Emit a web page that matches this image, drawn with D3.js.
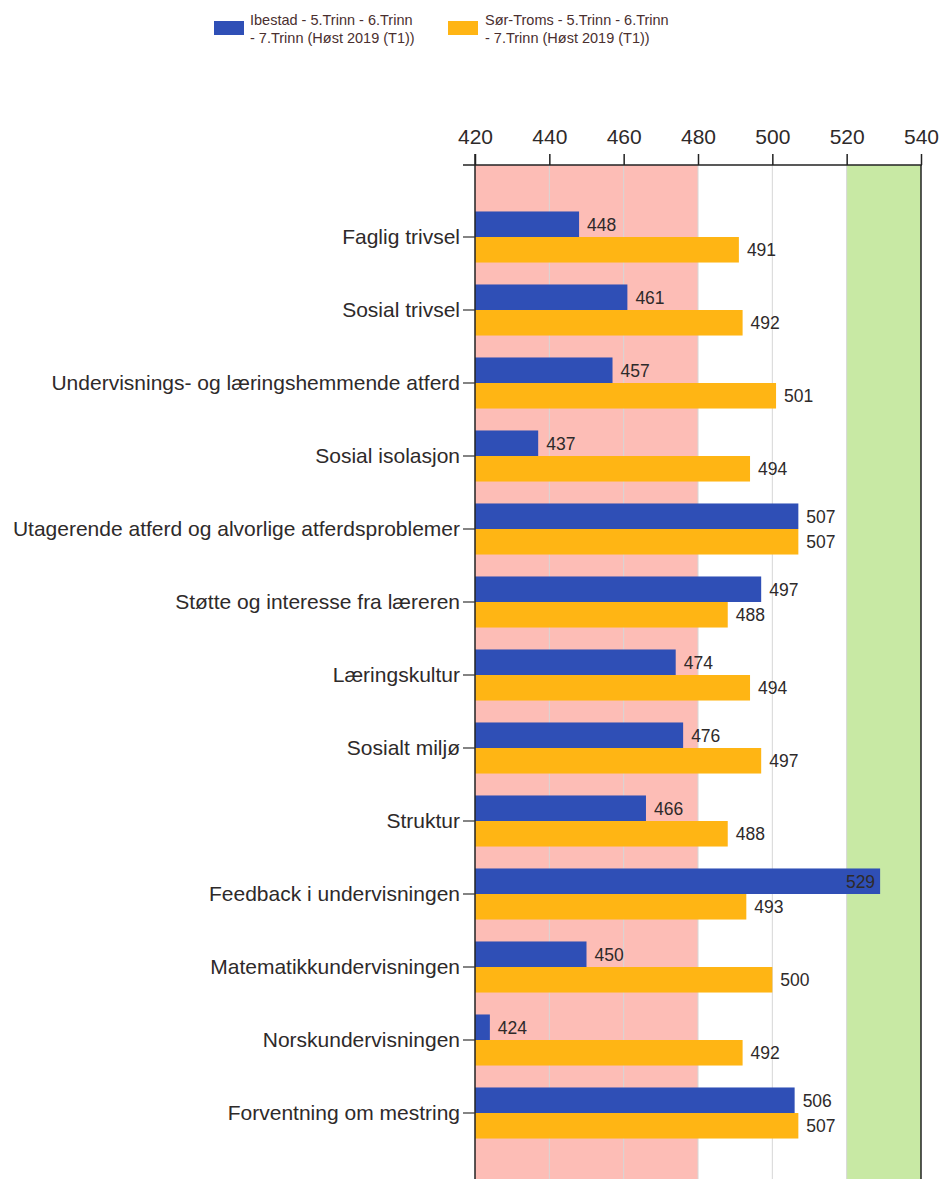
<!DOCTYPE html>
<html>
<head>
<meta charset="utf-8">
<script src="https://cdn.jsdelivr.net/npm/d3@7"></script>
<style>
  body { margin: 0; background: #fff; }
  svg { display: block; font-family: "Liberation Sans", Arial, sans-serif; }
  .cat_label { font-size: 21px; fill: #2e2a2a; }
  .tick_label { font-size: 21px; fill: #2e2a2a; }
  .val_label { font-size: 17.5px; fill: #2e2a2a; }
  .legend_text { font-size: 14.5px; fill: #4a2f2f; }
</style>
</head>
<body>
<div id="chart"></div>
<script>
var
    width = 941,
    height = 1179,
    categories = ['Faglig trivsel', 'Sosial trivsel', 'Undervisnings- og læringshemmende atferd',
        'Sosial isolasjon', 'Utagerende atferd og alvorlige atferdsproblemer',
        'Støtte og interesse fra læreren', 'Læringskultur', 'Sosialt miljø', 'Struktur',
        'Feedback i undervisningen', 'Matematikkundervisningen', 'Norskundervisningen',
        'Forventning om mestring'],
    ibestad = [448, 461, 457, 437, 507, 497, 474, 476, 466, 529, 450, 424, 506],
    sorTroms = [491, 492, 501, 494, 507, 488, 494, 497, 488, 493, 500, 492, 507],
    seriesNames = [['Ibestad - 5.Trinn - 6.Trinn', '- 7.Trinn (Høst 2019 (T1))'],
                   ['Sør-Troms - 5.Trinn - 6.Trinn', '- 7.Trinn (Høst 2019 (T1))']],
    xTicks = [420, 440, 460, 480, 500, 520, 540],
    zones = [[420, 480, '#fdbdb6'], [520, 540, '#c8e9a4']],
    colors = ['#2f4fb6', '#ffb514'];

var plotTop = 165, plotBottom = 1190;

var x = d3.scaleLinear().domain([420, 540]).range([475, 921]);

var y0 = d3.scaleBand().domain(categories).range([200.5, 1149.5]);

var y1 = d3.scaleBand().domain([0, 1]).range([0, y0.bandwidth()]).paddingOuter(0.43);

var svg = d3.select('#chart').append('svg')
    .attr('width', width)
    .attr('height', height);

// background zones
svg.selectAll('.zone')
    .data(zones)
  .enter().append('rect')
    .attr('class', 'zone')
    .attr('x', function(d) { return x(d[0]); })
    .attr('width', function(d) { return x(d[1]) - x(d[0]); })
    .attr('y', plotTop)
    .attr('height', plotBottom - plotTop)
    .attr('fill', function(d) { return d[2]; });

// grid
svg.selectAll('.grid')
    .data(xTicks.slice(1, -1))
  .enter().append('line')
    .attr('class', 'grid')
    .attr('x1', function(d) { return x(d); })
    .attr('x2', function(d) { return x(d); })
    .attr('y1', plotTop)
    .attr('y2', plotBottom)
    .attr('stroke', '#d6d6d6')
    .attr('stroke-width', 1);

// top axis
var xAxis = svg.append('g')
    .attr('transform', 'translate(0,' + plotTop + ')')
    .call(d3.axisTop(x).tickValues(xTicks).tickSize(11).tickSizeOuter(0).tickPadding(10));
xAxis.select('.domain').attr('stroke', '#222').attr('stroke-width', 1.5)
    .attr('d', 'M' + (x(420) - 12) + ',0H' + (x(540) + 1));
xAxis.selectAll('.tick line').attr('stroke', '#222').attr('stroke-width', 1.5);
xAxis.selectAll('.tick text').attr('class', 'tick_label').attr('font-family', null).attr('font-size', null);

// right border
svg.append('line')
    .attr('x1', x(540)).attr('x2', x(540))
    .attr('y1', plotTop).attr('y2', plotBottom)
    .attr('stroke', '#222').attr('stroke-width', 1.5);

// bars
var groups = svg.selectAll('.group')
    .data(categories)
  .enter().append('g')
    .attr('class', 'group')
    .attr('transform', function(d) { return 'translate(0,' + y0(d) + ')'; });

var barData = function(d, i) {
    return [{ s: 0, v: ibestad[i] }, { s: 1, v: sorTroms[i] }];
};

groups.selectAll('rect')
    .data(barData)
  .enter().append('rect')
    .attr('x', x(420))
    .attr('y', function(d) { return y1(d.s); })
    .attr('width', function(d) { return x(d.v) - x(420); })
    .attr('height', y1.bandwidth())
    .attr('fill', function(d) { return colors[d.s]; });

groups.selectAll('.val_label')
    .data(barData)
  .enter().append('text')
    .attr('class', 'val_label')
    .attr('x', function(d) { return x(d.v) > x(525) ? x(d.v) - 5 : x(d.v) + 8; })
    .attr('y', function(d) { return y1(d.s) + y1.bandwidth() / 2; })
    .attr('dy', '0.36em')
    .attr('text-anchor', function(d) { return x(d.v) > x(525) ? 'end' : 'start'; })
    .text(function(d) { return d.v; });

// left axis
var yAxis = svg.append('g')
    .attr('transform', 'translate(' + x(420) + ',0)')
    .call(d3.axisLeft(y0).tickSize(12).tickSizeOuter(0).tickPadding(3));
yAxis.select('.domain').attr('stroke', '#222').attr('stroke-width', 1.5)
    .attr('d', 'M0,' + (plotTop - 11) + 'V' + plotBottom);
yAxis.selectAll('.tick line').attr('stroke', '#333').attr('stroke-width', 1.2);
yAxis.selectAll('.tick text').attr('class', 'cat_label').attr('font-family', null).attr('font-size', null);

// legend
var legend = svg.selectAll('.legend')
    .data(seriesNames)
  .enter().append('g')
    .attr('class', 'legend')
    .attr('transform', function(d, i) { return 'translate(' + (i == 0 ? 214 : 448) + ',0)'; });

legend.append('rect')
    .attr('x', 0).attr('y', 21)
    .attr('width', 30)
    .attr('height', 14)
    .attr('fill', function(d, i) { return colors[i]; });

legend.append('text')
    .attr('class', 'legend_text')
    .attr('x', function(d, i) { return i == 0 ? 36 : 37; })
    .attr('y', 25)
    .selectAll('tspan')
    .data(function(d) { return d; })
  .enter().append('tspan')
    .attr('x', function() { return d3.select(this.parentNode).attr('x'); })
    .attr('dy', function(d, i) { return i == 0 ? 0 : 18; })
    .text(function(d) { return d; });
</script>
</body>
</html>
